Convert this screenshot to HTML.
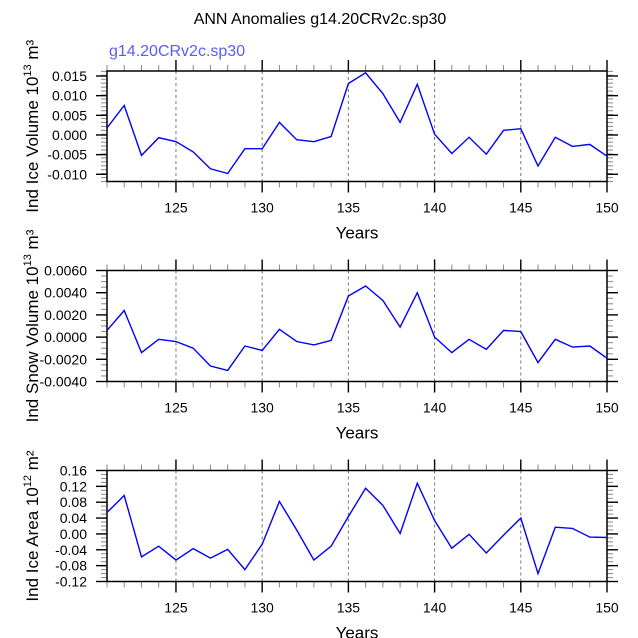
<!DOCTYPE html>
<html><head><meta charset="utf-8"><style>
body{margin:0;background:#fff}
svg{display:block;font-family:"Liberation Sans",sans-serif}
</style></head><body>
<svg id="c" width="638" height="638">
<text x="320" y="24" text-anchor="middle" font-size="16">ANN Anomalies g14.20CRv2c.sp30</text>
<text x="109" y="56" font-size="16" fill="#5a5aff">g14.20CRv2c.sp30</text>
</svg>
<script>
const years = [121,122,123,124,125,126,127,128,129,130,131,132,133,134,135,136,137,138,139,140,141,142,143,144,145,146,147,148,149,150];
const iceVolume = [0.0018,0.0075,-0.0052,-0.0007,-0.0017,-0.0043,-0.0086,-0.0098,-0.0035,-0.0035,0.0032,-0.0012,-0.0017,-0.0004,0.0131,0.0158,0.0105,0.0032,0.0129,0.0002,-0.0047,-0.0006,-0.0049,0.0012,0.0016,-0.0079,-0.0006,-0.0029,-0.0024,-0.0054];
const snowVolume = [0.0006,0.0024,-0.0014,-0.0002,-0.0004,-0.0010,-0.0026,-0.0030,-0.0008,-0.0012,0.0007,-0.0004,-0.0007,-0.0003,0.0037,0.0046,0.0033,0.0009,0.0040,0.0000,-0.0014,-0.0002,-0.0011,0.0006,0.0005,-0.0023,-0.0002,-0.0009,-0.0008,-0.0019];
const iceArea = [0.054,0.097,-0.058,-0.031,-0.066,-0.037,-0.061,-0.039,-0.090,-0.026,0.082,0.010,-0.066,-0.031,0.044,0.115,0.072,0.001,0.128,0.034,-0.036,-0.001,-0.048,-0.003,0.040,-0.100,0.017,0.014,-0.008,-0.009];
const xTicks = [125,130,135,140,145,150];
const iceVolTicks = [-0.010,-0.005,0.000,0.005,0.010,0.015];
const iceVolLabels = ["-0.010","-0.005","0.000","0.005","0.010","0.015"];
const snowTicks = [-0.004,-0.002,0,0.002,0.004,0.006];
const snowLabels = ["-0.0040","-0.0020","0.0000","0.0020","0.0040","0.0060"];
const areaTicks = [-0.12,-0.08,-0.04,0,0.04,0.08,0.12,0.16];
const areaLabels = ["-0.12","-0.08","-0.04","0.00","0.04","0.08","0.12","0.16"];

const svg = document.getElementById('c');
const NS = 'http://www.w3.org/2000/svg';
function mk(t, a, parent){const e=document.createElementNS(NS,t);for(const k in a)e.setAttribute(k,a[k]);(parent||svg).appendChild(e);return e;}
const L=107,R=607;
const xs = v => L + (v-121)/(150-121)*(R-L);

function panel(id, top, bot, ymin, ymax, vals, ticks, labels, minorStep, ylab, sup, unit){
  const g = mk('g',{});
  
  
  const ys = v => bot - (v-ymin)/(ymax-ymin)*(bot-top);
  for(const t of [125,130,135,140,145]){
    const l = mk('line',{x1:xs(t),x2:xs(t),y1:top,y2:bot,stroke:'#777','stroke-dasharray':'3,3','stroke-width':1},g);
    
    
  }
  for(const y of years){
    mk('line',{x1:xs(y),x2:xs(y),y1:bot,y2:bot+6,stroke:'#888'},g);
    mk('line',{x1:xs(y),x2:xs(y),y1:top,y2:top-6,stroke:'#888'},g);
  }
  for(let v=ymin; v<=ymax+1e-9; v+=minorStep){
    mk('line',{x1:L,x2:L-6,y1:ys(v),y2:ys(v),stroke:'#888'},g);
    mk('line',{x1:R,x2:R+6,y1:ys(v),y2:ys(v),stroke:'#888'},g);
  }
  xTicks.forEach(t=>{
    mk('line',{x1:xs(t),x2:xs(t),y1:bot,y2:bot+11,stroke:'#000','stroke-width':1.4},g);
    mk('line',{x1:xs(t),x2:xs(t),y1:top,y2:top-11,stroke:'#000','stroke-width':1.4},g);
    const tx = mk('text',{x:xs(t),y:bot+31,'text-anchor':'middle','font-size':14},g);
    tx.textContent = t;
    
    
  });
  ticks.forEach((t,i)=>{
    mk('line',{x1:L-11,x2:L,y1:ys(t),y2:ys(t),stroke:'#000','stroke-width':1.4},g);
    mk('line',{x1:R+11,x2:R,y1:ys(t),y2:ys(t),stroke:'#000','stroke-width':1.4},g);
    const tx = mk('text',{x:L-20,y:ys(t)+5,'text-anchor':'end','font-size':14},g);
    tx.textContent = labels[i];
    
    
  });
  const fr = mk('rect',{x:L,y:top,width:R-L,height:bot-top,fill:'none',stroke:'#000','stroke-width':1.5},g);
  
  
  const pts = vals.map((v,i)=>xs(years[i]).toFixed(1)+','+ys(v).toFixed(1)).join(' ');
  const pl = mk('polyline',{points:pts,fill:'none',stroke:'#0000ff','stroke-width':1.4},g);
  
  
  const xt = mk('text',{x:357,y:bot+57,'text-anchor':'middle','font-size':17},g);
  xt.textContent='Years';
  
  
  const cy=(top+bot)/2;
  const yt = mk('text',{x:0,y:0,'text-anchor':'middle','font-size':17,transform:`translate(38,${cy}) rotate(-90)`},g);
  yt.innerHTML = ylab+' 10<tspan dy="-7" font-size="11">'+sup+'</tspan><tspan dy="7"> '+unit+'</tspan>';
  
  
}
panel('ice-volume',71,181.5,-0.01183,0.01627,iceVolume,iceVolTicks,iceVolLabels,0.001,'Ind Ice Volume','13','m³');
panel('snow-volume',270.5,381.5,-0.004,0.006,snowVolume,snowTicks,snowLabels,0.0005,'Ind Snow Volume','13','m³');
panel('ice-area',470.5,581.5,-0.12,0.16,iceArea,areaTicks,areaLabels,0.01,'Ind Ice Area','12','m²');
</script>
</body></html>
